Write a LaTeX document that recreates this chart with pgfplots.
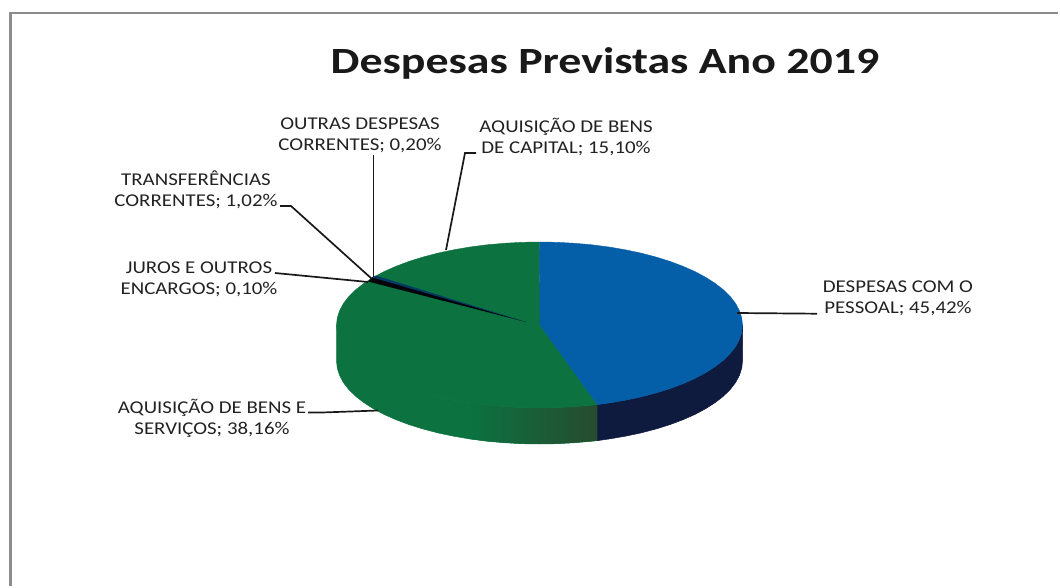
\documentclass[border=0pt]{standalone}
\usepackage{pgfplots}
\pgfplotsset{compat=1.18}
\usepackage{fontspec}
\setmainfont{Carlito}[FakeStretch=1.16]
\newfontfamily\titlefont{Carlito}[FakeStretch=1.24]
\definecolor{pieblue}{HTML}{045FA8}
\definecolor{piegreen}{HTML}{0B7240}
\definecolor{sidenavy}{HTML}{0F1A3F}
\definecolor{sidegreen}{HTML}{274B2F}
\definecolor{labeltext}{HTML}{222222}
\definecolor{frameline}{HTML}{8C8C8C}
\tikzset{
  lbl/.style={font=\fontsize{18}{20.7}\selectfont, text=labeltext, align=center, inner sep=0pt},
  leader/.style={black!90, line width=1.7pt, no marks},
}
\begin{document}
\begin{tikzpicture}[x=1pt,y=1pt]
\begin{axis}[
  width=1060pt, height=588pt, scale only axis,
  xmin=0, xmax=1060, ymin=0, ymax=588, y dir=reverse,
  hide axis, clip=false,
  every axis plot/.append style={no marks},
]
% keeps the page at the full size, hide axis does not count
\path (axis cs:0,0) rectangle (axis cs:1060,588);

% frame
\addplot[frameline, line width=2.6pt] coordinates {(10.5,586) (10.5,13) (1058,13)};

% side wall, green part (same colour as the top on the left)
\addplot[draw=piegreen, line width=0.5pt, fill=piegreen] coordinates {
(597.5,404.6) (592.0,405.2) (574.7,406.7) (557.2,407.7) (539.5,408) (521.8,407.7) (504.3,406.7) (487.0,405.2) (470.1,403)
(453.7,400.2) (438.0,396.9) (423.1,393) (409.0,388.6) (396.0,383.7) (384.0,378.4) (373.2,372.6) (363.7,366.5) (355.5,360.1)
(348.7,353.4) (343.4,346.5) (339.6,339.4) (337.3,332.2) (336.5,325)
(336.5,361) (337.3,368.2) (339.6,375.4) (343.4,382.5) (348.7,389.4) (355.5,396.1) (363.7,402.5) (373.2,408.6) (384.0,414.4)
(396.0,419.7) (409.0,424.6) (423.1,429) (438.0,432.9) (453.7,436.2) (470.1,439) (487.0,441.2) (504.3,442.7) (521.8,443.7)
(539.5,444) (557.2,443.7) (574.7,442.7) (592.0,441.2) (597.5,440.6)} --cycle;
% darker stretch of the green wall
\addplot[draw=none, left color=piegreen, middle color=sidegreen, right color=sidegreen] coordinates {
(597.5,404.6) (592.0,405.2) (574.7,406.7) (557.2,407.7) (539.5,408) (521.8,407.7) (504.3,406.7) (487.0,405.2) (470.1,403)
(470.1,439) (487.0,441.2) (504.3,442.7) (521.8,443.7) (539.5,444) (557.2,443.7) (574.7,442.7) (592.0,441.2) (597.5,440.6)} --cycle;
% side wall, navy
\addplot[draw=sidenavy, line width=0.5pt, fill=sidenavy] coordinates {
(742.5,325) (741.7,332.2) (739.4,339.4) (735.6,346.5) (730.3,353.4) (723.5,360.1) (715.3,366.5) (705.8,372.6) (695.0,378.4)
(683.0,383.7) (670.0,388.6) (655.9,393) (641.0,396.9) (625.3,400.2) (608.9,403) (597.5,404.6)
(597.5,440.6) (608.9,439) (625.3,436.2) (641.0,432.9) (655.9,429) (670.0,424.6) (683.0,419.7) (695.0,414.4) (705.8,408.6)
(715.3,402.5) (723.5,396.1) (730.3,389.4) (735.6,382.5) (739.4,375.4) (741.7,368.2) (742.5,361)} --cycle;

% top: Aquisicao de bens (capital + servicos)
\addplot[draw=piegreen, line width=0.4pt, fill=piegreen] coordinates {
(540,325) (597.5,404.6) (592.0,405.2) (574.7,406.7) (557.2,407.7) (539.5,408) (521.8,407.7) (504.3,406.7) (487.0,405.2) (470.1,403)
(453.7,400.2) (438.0,396.9) (423.1,393) (409.0,388.6) (396.0,383.7) (384.0,378.4) (373.2,372.6) (363.7,366.5) (355.5,360.1)
(348.7,353.4) (343.4,346.5) (339.6,339.4) (337.3,332.2) (336.5,325)
(337.3,317.8) (339.6,310.6) (343.4,303.5) (348.7,296.6) (355.5,289.9) (363.7,283.5) (373.2,277.4) (384.0,271.6) (396.0,266.3)
(409.0,261.4) (423.1,257) (438.0,253.1) (453.7,249.8) (470.1,247) (487.0,244.8) (504.3,243.3) (521.8,242.3) (539.5,242)} --cycle;
% top: Despesas com o pessoal
\addplot[draw=pieblue, line width=0.4pt, fill=pieblue] coordinates {
(540,325) (539.5,242) (557.2,242.3) (574.7,243.3) (592.0,244.8) (608.9,247) (625.3,249.8) (641.0,253.1) (655.9,257) (670.0,261.4)
(683.0,266.3) (695.0,271.6) (705.8,277.4) (715.3,283.5) (723.5,289.9) (730.3,296.6) (735.6,303.5) (739.4,310.6) (741.7,317.8)
(742.5,325) (741.7,332.2) (739.4,339.4) (735.6,346.5) (730.3,353.4) (723.5,360.1) (715.3,366.5) (705.8,372.6) (695.0,378.4)
(683.0,383.7) (670.0,388.6) (655.9,393) (641.0,396.9) (625.3,400.2) (608.9,403) (597.5,404.6)} --cycle;
% thin wedges
\addplot[draw=none, fill=black!85!sidenavy] coordinates {(526,322) (372.5,277) (368,281.5)} --cycle;
\addplot[draw=none, fill=pieblue!60!black] coordinates {(526,322) (375.5,275.5) (372.5,277.5)} --cycle;

% leaders
\addplot[leader] coordinates {(373.5,155) (373.5,277)};
\addplot[leader] coordinates {(476,153) (465,153) (446,250)};
\addplot[leader] coordinates {(280,206) (291,206) (372,279)};
\addplot[leader] coordinates {(275,273) (368,282)};
\addplot[leader] coordinates {(737,313) (817,313.7)};
\addplot[leader] coordinates {(308,412.5) (322,412.5) (378,410.5)};

% title and labels
\node[font=\titlefont\fontsize{37}{40}\selectfont\bfseries, text=black!90, inner sep=0pt] at (axis cs:605,63) {Despesas Previstas Ano 2019};
\node[lbl] at (axis cs:360,135) {OUTRAS DESPESAS\\CORRENTES; 0,20\%};
\node[lbl] at (axis cs:566,137) {AQUISIÇÃO DE BENS\\DE CAPITAL; 15,10\%};
\node[lbl] at (axis cs:196,190) {TRANSFERÊNCIAS\\CORRENTES; 1,02\%};
\node[lbl] at (axis cs:199,279) {JUROS E OUTROS\\ENCARGOS; 0,10\%};
\node[lbl] at (axis cs:898,298) {DESPESAS COM O\\PESSOAL; 45,42\%};
\node[lbl] at (axis cs:212,418) {AQUISIÇÃO DE BENS E\\SERVIÇOS; 38,16\%};
\end{axis}
\end{tikzpicture}
\end{document}
